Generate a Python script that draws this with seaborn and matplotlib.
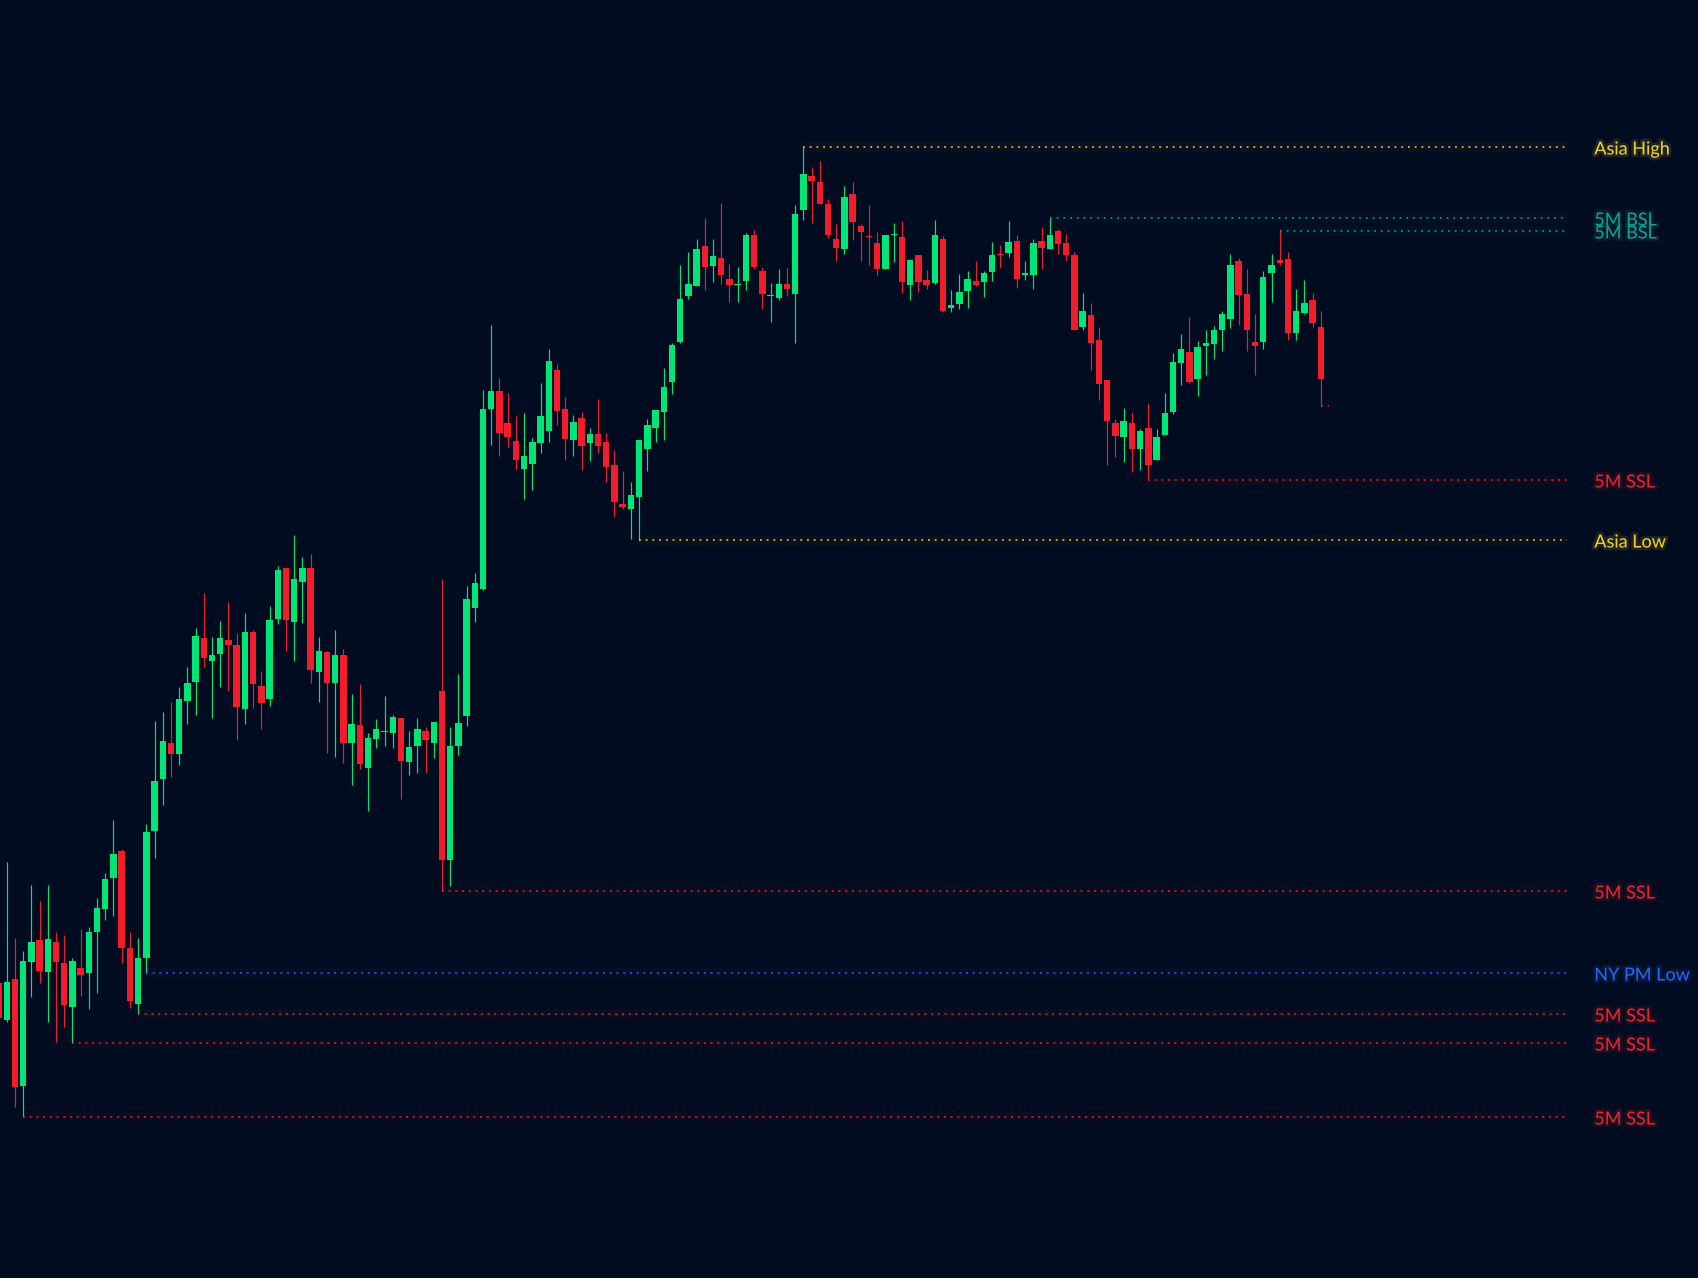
import numpy as np
import pandas as pd
import matplotlib
matplotlib.use("Agg")
import matplotlib.pyplot as plt
import matplotlib.patheffects as pe
import seaborn as sns

# ---------------- data (price units) ----------------
opens = [317, 280, 321, 214, 338, 360, 328, 358, 337, 293,
         332, 327, 368, 391, 422, 449, 352, 296, 342, 469,
         521, 557, 546, 599, 618, 662, 639, 646, 660, 655,
         591, 668, 614, 601, 681, 732, 678, 718, 732, 628,
         648, 617, 645, 557, 575, 532, 561, 568, 567, 582,
         538, 554, 569, 557, 609, 440, 554, 584, 692, 711,
         891, 909, 877, 859, 831, 836, 857, 869, 930, 891,
         860, 882, 857, 866, 858, 835, 796, 791, 803, 851,
         872, 888, 918, 958, 1004, 1014, 1054, 1034, 1042, 1021,
         1015, 1019, 1065, 1029, 1004, 1002, 1016, 1006, 1090, 1124,
         1118, 1096, 1061, 1051, 1106, 1074, 1064, 1057, 1031, 1065,
         1063, 1015, 1045, 1020, 1017, 1061, 992, 996, 1009, 1019,
         1018, 1028, 1046, 1047, 1059, 1025, 1025, 1059, 1051, 1069,
         1057, 1045, 973, 985, 960, 920, 877, 863, 877, 851,
         872, 840, 865, 888, 937, 948, 921, 954, 956, 970,
         981, 1039, 1006, 958, 958, 1027, 1040, 1041, 967, 987,
         1000, 973]
highs = [325, 438, 362, 349, 415, 399, 415, 368, 365, 342,
         371, 373, 402, 427, 480, 451, 368, 362, 476, 579,
         588, 598, 613, 633, 672, 707, 663, 679, 698, 667,
         687, 670, 629, 694, 734, 733, 765, 743, 746, 663,
         649, 670, 651, 606, 616, 567, 581, 604, 585, 582,
         569, 582, 573, 578, 721, 573, 626, 714, 727, 910,
         975, 922, 907, 884, 887, 862, 917, 951, 936, 903,
         885, 888, 872, 901, 867, 850, 829, 818, 860, 881,
         890, 932, 957, 1035, 1048, 1061, 1082, 1061, 1097, 1036,
         1033, 1067, 1070, 1033, 1017, 1031, 1032, 1095, 1153, 1133,
         1139, 1101, 1076, 1114, 1118, 1076, 1095, 1068, 1065, 1077,
         1079, 1040, 1045, 1030, 1080, 1064, 1010, 1026, 1029, 1039,
         1029, 1058, 1055, 1079, 1065, 1039, 1061, 1073, 1082, 1071,
         1066, 1048, 1007, 997, 973, 920, 881, 892, 887, 871,
         897, 871, 907, 947, 966, 983, 959, 970, 974, 989,
         1046, 1042, 1031, 986, 1029, 1046, 1069, 1048, 1011, 1020,
         1007, 989]
lows = [275, 278, 193, 183, 303, 317, 278, 258, 273, 257,
        304, 291, 307, 380, 384, 337, 292, 286, 327, 442,
        495, 523, 535, 576, 585, 633, 582, 613, 609, 560,
        576, 592, 571, 594, 676, 649, 639, 677, 617, 598,
        547, 543, 537, 515, 531, 489, 552, 554, 552, 501,
        525, 527, 527, 542, 409, 414, 545, 574, 678, 710,
        855, 844, 853, 831, 801, 810, 847, 858, 875, 840,
        844, 830, 839, 847, 818, 783, 791, 761, 760, 829,
        858, 860, 906, 957, 1001, 1014, 1010, 1018, 1016, 998,
        998, 1010, 1031, 991, 978, 1000, 1004, 957, 1080, 1077,
        1096, 1062, 1039, 1046, 1060, 1039, 1035, 1025, 1031, 1038,
        1007, 1000, 1008, 1011, 1016, 988, 988, 991, 992, 1014,
        1003, 1019, 1032, 1043, 1012, 1020, 1011, 1031, 1051, 1046,
        1039, 970, 970, 930, 900, 835, 843, 838, 828, 830,
        820, 840, 865, 886, 915, 917, 904, 925, 941, 949,
        972, 975, 949, 925, 951, 998, 1035, 960, 960, 986,
        973, 894]
closes = [282, 318, 213, 339, 358, 329, 361, 338, 295, 339,
          325, 368, 392, 421, 446, 352, 299, 342, 468, 519,
          559, 546, 601, 617, 664, 642, 645, 662, 655, 593,
          668, 616, 597, 680, 730, 680, 721, 732, 630, 649,
          617, 645, 557, 576, 536, 562, 571, 569, 583, 539,
          553, 571, 560, 578, 440, 554, 577, 701, 717, 891,
          909, 867, 863, 840, 844, 858, 884, 939, 889, 861,
          878, 854, 866, 854, 833, 798, 793, 805, 860, 875,
          890, 913, 955, 1001, 1016, 1051, 1033, 1044, 1025, 1015,
          1016, 1065, 1033, 1006, 1005, 1016, 1011, 1086, 1126, 1119,
          1096, 1065, 1052, 1103, 1078, 1068, 1063, 1031, 1065, 1066,
          1018, 1040, 1018, 1015, 1065, 989, 995, 1008, 1021, 1015,
          1027, 1045, 1045, 1058, 1021, 1027, 1057, 1052, 1065, 1056,
          1045, 970, 989, 957, 916, 879, 864, 879, 851, 869,
          835, 863, 887, 938, 951, 918, 953, 957, 970, 986,
          1035, 1005, 970, 954, 1023, 1035, 1037, 967, 989, 997,
          977, 921]

level_names = ["Asia High", "5M BSL", "5M BSL", "5M SSL", "Asia Low",
               "5M SSL", "NY PM Low", "5M SSL", "5M SSL", "5M SSL"]
level_prices = [1153, 1082, 1069, 820, 760, 409, 327, 286, 257, 183]
level_start = [98, 128, 156, 140, 78, 54, 18, 17, 9, 3]
level_kind = ["asia", "bsl", "bsl", "ssl", "asia", "ssl", "ny", "ssl", "ssl", "ssl"]

new_ssl_price = 894
new_ssl_start = 161

# ---------------- styling ----------------
BG = "#020c21"
UP = "#00e676"
DOWN = "#f21c2b"
KIND_COL = {"asia": "#f2d22e", "bsl": "#11a394", "ssl": "#f0222e", "ny": "#2a66f0"}

sns.set_theme(style="dark", rc={"axes.facecolor": BG, "figure.facecolor": BG})
plt.rcParams["font.family"] = ["Lato", "DejaVu Sans"]

df = pd.DataFrame({"open": opens, "high": highs, "low": lows, "close": closes})
df["idx"] = np.arange(len(df))
df["up"] = df["close"] >= df["open"]
df["col"] = np.where(df["up"], UP, DOWN)
df["bottom"] = df[["open", "close"]].min(axis=1)
df["height"] = (df["close"] - df["open"]).abs().clip(lower=1.0)

fig = plt.figure(figsize=(16.98, 12.78), dpi=100)
ax = fig.add_axes([0, 0, 1, 1])
ax.set_facecolor(BG)

# wicks
ax.vlines(df["idx"], df["low"], df["high"], colors=df["col"], linewidth=0.85, zorder=2)
# bodies
ax.bar(df["idx"], df["height"], bottom=df["bottom"], width=0.78,
       color=df["col"], linewidth=0, zorder=3)

LINE_END = 190.98
LABEL_X = 194.3
for name, price, start, kind in zip(level_names, level_prices, level_start, level_kind):
    c = KIND_COL[kind]
    # faint glow
    ax.hlines(price, start, LINE_END, colors=c, linewidth=7, alpha=0.035, zorder=1)
    ax.hlines(price, start, LINE_END, colors=c, linewidth=1.1,
              linestyles=(0, (1.2, 3.2)), zorder=4)
    ax.text(LABEL_X, price - 2.5, name, color=c, fontsize=13, va="center", ha="left",
            zorder=5,
            path_effects=[pe.withStroke(linewidth=4, foreground=c, alpha=0.12)])

ax.hlines(new_ssl_price, new_ssl_start, new_ssl_start + 1.0, colors=KIND_COL["ssl"],
          linewidth=1.1, linestyles=(0, (1.2, 3.2)), zorder=4)

ax.set_xlim(0.183, 206.93)
ax.set_ylim(22, 1300)
ax.set_axis_off()

fig.savefig("out.png", dpi=100, facecolor=BG)
